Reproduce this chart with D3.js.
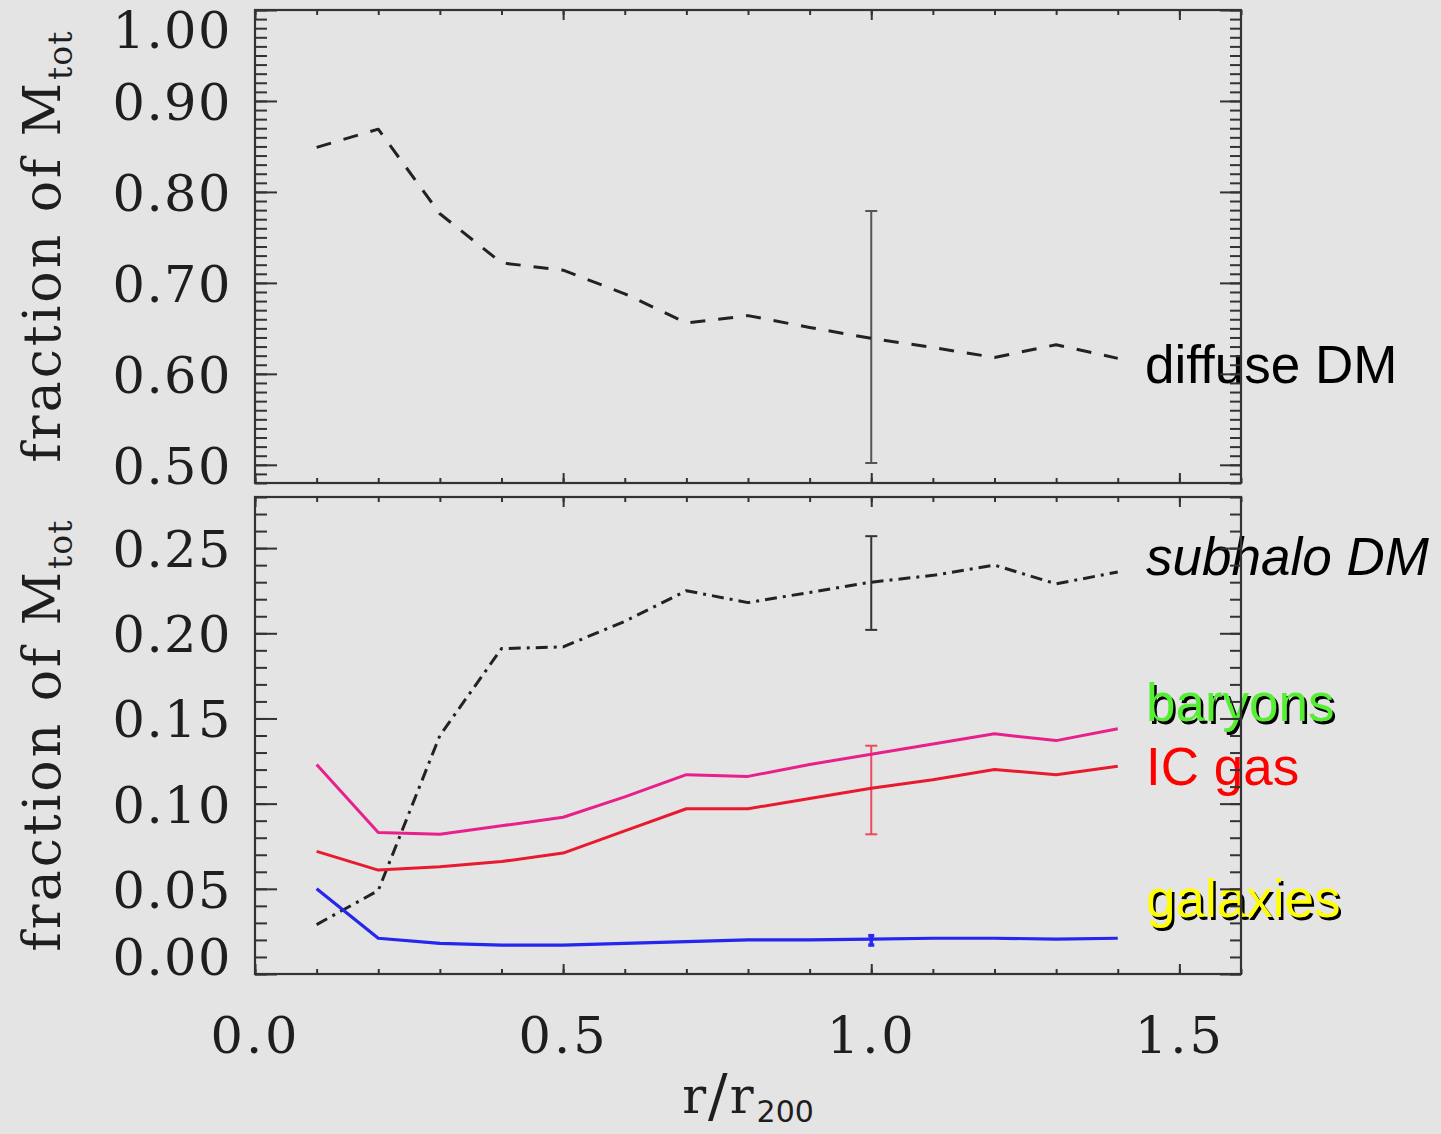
<!DOCTYPE html>
<html>
<head>
<meta charset="utf-8">
<script src="https://cdn.jsdelivr.net/npm/d3@7"></script>
<style>
  html, body { margin: 0; padding: 0; background: #e4e4e4; }
  svg { display: block; }
</style>
</head>
<body>
<svg id="chart" width="1441" height="1134"></svg>
<script>
// Radial bins (in units of r200)
const radius = [0.1, 0.2, 0.3, 0.4, 0.5, 0.6, 0.7, 0.8, 0.9, 1.0, 1.1, 1.2, 1.3, 1.4];

// Mass fractions per component
const diffuseDM = [0.849, 0.869, 0.776, 0.722, 0.714, 0.688, 0.656, 0.664, 0.651, 0.639, 0.629, 0.618, 0.632, 0.617];
const subhaloDM = [0.029, 0.049, 0.140, 0.191, 0.192, 0.207, 0.225, 0.218, 0.224, 0.230, 0.234, 0.240, 0.229, 0.236];
const baryons   = [0.123, 0.083, 0.082, 0.087, 0.092, 0.104, 0.117, 0.116, 0.123, 0.129, 0.135, 0.141, 0.137, 0.144];
const icGas     = [0.072, 0.061, 0.063, 0.066, 0.071, 0.084, 0.097, 0.097, 0.103, 0.109, 0.114, 0.120, 0.117, 0.122];
const galaxies  = [0.050, 0.021, 0.018, 0.017, 0.017, 0.018, 0.019, 0.020, 0.020, 0.0205, 0.021, 0.021, 0.0205, 0.021];

// Scatter ranges at r = r200: [radius, low, high]
const diffuseErr  = [1.0, 0.502, 0.779];
const subhaloErr  = [1.0, 0.202, 0.257];
const icGasErr    = [1.0, 0.082, 0.134];
const galaxiesErr = [1.0, 0.017, 0.0225];

// Tick values
const xMajor = [0.0, 0.5, 1.0, 1.5];
const xMinor = d3.range(0, 1.61, 0.1);
const topMajor = [0.50, 0.60, 0.70, 0.80, 0.90, 1.00];
const topMinor = d3.range(0.48, 1.0001, 0.01);
const botMajor = [0.00, 0.05, 0.10, 0.15, 0.20, 0.25];
const botMinor = d3.range(0.0, 0.2801, 0.01);

const svg = d3.select("#chart");
const left = 255, right = 1241;
const topBox = { top: 10, bottom: 483 };
const botBox = { top: 497, bottom: 974 };

const x = d3.scaleLinear().domain([0, 1.6]).range([left, right]);
const yTop = d3.scaleLinear().domain([0.48, 1.00]).range([topBox.bottom, topBox.top]);
const yBot = d3.scaleLinear().domain([0.0, 0.28]).range([botBox.bottom, botBox.top]);

const axisColor = "#333";
const serif = '"DejaVu Serif", serif';
const textColor = "#1e1e1e";

// ---- data lines ----
function drawLine(yScale, values, color, width, dash) {
  const line = d3.line().x((d, i) => x(radius[i])).y(d => yScale(d));
  svg.append("path")
    .datum(values)
    .attr("d", line)
    .attr("fill", "none")
    .attr("stroke", color)
    .attr("stroke-width", width)
    .attr("stroke-linejoin", "round")
    .attr("stroke-dasharray", dash || null);
}

function drawErr(yScale, e, color, width, cap) {
  const g = svg.append("g").attr("stroke", color).attr("stroke-width", width);
  const cx = x(e[0]);
  g.append("line").attr("x1", cx).attr("x2", cx).attr("y1", yScale(e[1])).attr("y2", yScale(e[2]));
  [e[1], e[2]].forEach(v => {
    g.append("line").attr("x1", cx - cap).attr("x2", cx + cap).attr("y1", yScale(v)).attr("y2", yScale(v));
  });
}

drawErr(yTop, diffuseErr, "#555", 2, 6);
drawLine(yTop, diffuseDM, "#222", 3, "15,13");

drawErr(yBot, subhaloErr, "#333", 2, 6);
drawErr(yBot, icGasErr, "#ec4a60", 2, 6);
drawErr(yBot, galaxiesErr, "#2a2af0", 3.5, 3);
drawLine(yBot, subhaloDM, "#222", 3, "12,6,3,6");
drawLine(yBot, baryons, "#e8208c", 3);
drawLine(yBot, icGas, "#e81a30", 3);
drawLine(yBot, galaxies, "#2626ee", 3.2);

// ---- component labels ----
const labelFont = '"Liberation Sans", Arial, sans-serif';
function label(txt, xPos, yPos, color, opts = {}) {
  if (opts.shadow) {
    svg.append("text").attr("x", xPos + 2.5).attr("y", yPos + 2.5)
      .attr("font-family", labelFont).attr("font-size", 53)
      .attr("font-style", opts.italic ? "italic" : null)
      .attr("fill", "#000").text(txt);
  }
  svg.append("text").attr("x", xPos).attr("y", yPos)
    .attr("font-family", labelFont).attr("font-size", 53)
    .attr("font-style", opts.italic ? "italic" : null)
    .attr("fill", color).text(txt);
}
label("diffuse DM", 1145, 383, "#000");
label("subhalo DM", 1146, 575, "#000", { italic: true });
label("baryons", 1146, 721, "#55ee33", { shadow: true });
label("IC gas", 1146, 785, "#ff0000");
label("galaxies", 1146, 917, "#ffff00", { shadow: true });

// ---- frames, ticks and tick labels ----
function panel(box, yScale, major, minor, fmt, showX) {
  const h = box.bottom - box.top;
  const w = right - left;
  const g = svg.append("g");

  const styleAxis = sel => {
    sel.select(".domain").remove();
    sel.selectAll(".tick line").attr("stroke", axisColor).attr("stroke-width", 2);
  };

  // y ticks: left and right, pointing inward
  g.append("g").attr("transform", `translate(${left},0)`)
    .call(d3.axisLeft(yScale).tickValues(minor).tickSize(-12).tickFormat("")).call(styleAxis);
  g.append("g").attr("transform", `translate(${left},0)`)
    .call(d3.axisLeft(yScale).tickValues(major).tickSize(-22).tickFormat("")).call(styleAxis);
  g.append("g").attr("transform", `translate(${right},0)`)
    .call(d3.axisRight(yScale).tickValues(minor).tickSize(-11).tickFormat("")).call(styleAxis);
  g.append("g").attr("transform", `translate(${right},0)`)
    .call(d3.axisRight(yScale).tickValues(major).tickSize(-21).tickFormat("")).call(styleAxis);

  // x ticks: top and bottom, pointing inward
  g.append("g").attr("transform", `translate(0,${box.bottom})`)
    .call(d3.axisBottom(x).tickValues(xMinor).tickSize(-5).tickFormat("")).call(styleAxis);
  g.append("g").attr("transform", `translate(0,${box.bottom})`)
    .call(d3.axisBottom(x).tickValues(xMajor).tickSize(-10).tickFormat("")).call(styleAxis);
  g.append("g").attr("transform", `translate(0,${box.top})`)
    .call(d3.axisTop(x).tickValues(xMinor).tickSize(-5).tickFormat("")).call(styleAxis);
  g.append("g").attr("transform", `translate(0,${box.top})`)
    .call(d3.axisTop(x).tickValues(xMajor).tickSize(-10).tickFormat("")).call(styleAxis);

  // frame
  g.append("rect").attr("x", left).attr("y", box.top).attr("width", w).attr("height", h)
    .attr("fill", "none").attr("stroke", axisColor).attr("stroke-width", 2.2);

  // y tick labels (end labels kept inside the panel's height)
  const yl = g.append("g").attr("transform", `translate(${left},0)`)
    .call(d3.axisLeft(yScale).tickValues(major).tickSize(0).tickPadding(23).tickFormat(d3.format(fmt)));
  yl.select(".domain").remove();
  yl.selectAll("text").attr("font-size", 51).attr("letter-spacing", 1.5)
    .attr("font-family", serif).attr("fill", textColor)
    .attr("dy", d => (d === 1) ? "0.73em" : (showX && d === 0) ? "0.01em" : "0.36em");

  // y title
  const cy = (box.top + box.bottom) / 2;
  const t = g.append("text")
    .attr("transform", `translate(60,${cy}) rotate(-90)`)
    .attr("text-anchor", "middle")
    .attr("font-family", serif)
    .attr("font-size", 52)
    .attr("letter-spacing", 3)
    .attr("fill", textColor);
  t.append("tspan").text("fraction of M");
  t.append("tspan").attr("font-size", 33).attr("dy", 12).attr("letter-spacing", 1).text("tot");

  if (showX) {
    const xl = g.append("g").attr("transform", `translate(0,${box.bottom})`)
      .call(d3.axisBottom(x).tickValues(xMajor).tickSize(0).tickPadding(43).tickFormat(d3.format(".1f")));
    xl.select(".domain").remove();
    xl.selectAll("text").attr("font-size", 51).attr("letter-spacing", 3)
      .attr("font-family", serif).attr("fill", textColor);
  }
}

panel(topBox, yTop, topMajor, topMinor, ".2f", false);
panel(botBox, yBot, botMajor, botMinor, ".2f", true);

// x title: r / r200
const xt = svg.append("text")
  .attr("x", 748)
  .attr("y", 1113)
  .attr("text-anchor", "middle")
  .attr("font-family", serif)
  .attr("font-size", 50)
  .attr("fill", textColor);
xt.append("tspan").text("r");
xt.append("tspan").attr("font-size", 58).attr("dy", 3).attr("dx", 2).text("/");
xt.append("tspan").attr("dy", -3).attr("dx", 2).text("r");
xt.append("tspan").attr("font-family", '"DejaVu Sans", sans-serif').attr("font-size", 30)
  .attr("dy", 9).attr("dx", 3).text("200");
</script>
</body>
</html>
